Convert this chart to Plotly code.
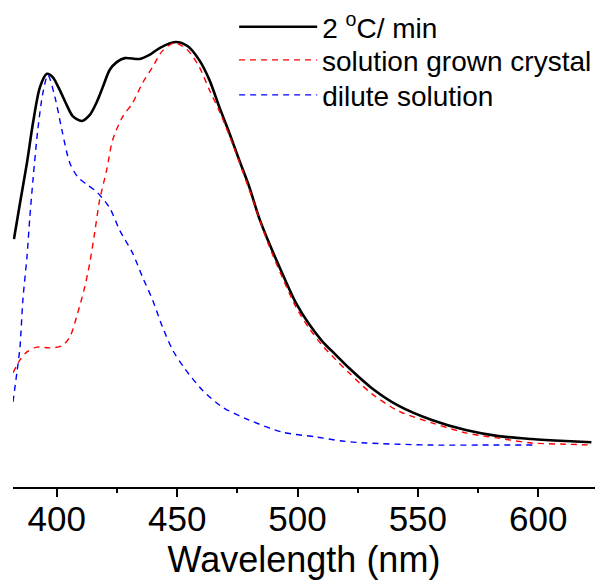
import plotly.graph_objects as go

# Wavelength (nm) and normalized intensity
wl_black = [382.2, 384.7, 387.6, 390.1, 393.0, 395.9, 398.3, 401.2, 404.1, 406.6, 410.4, 413.7,
            416.6, 419.1, 422.0, 424.9, 428.2, 434.4, 438.5, 442.7, 449.3, 454.3, 459.2, 463.4,
            467.5, 471.7, 475.8, 480.0, 484.1, 488.2, 493.6, 499.4, 504.8, 510.2, 516.0, 521.4,
            530.9, 542.1, 555.8, 569.9, 583.5, 597.2, 611.3, 622.1]
int_black = [0.511, 0.600, 0.700, 0.799, 0.888, 0.921, 0.913, 0.881, 0.844, 0.816, 0.804, 0.819,
             0.851, 0.888, 0.931, 0.950, 0.960, 0.958, 0.968, 0.985, 1.000, 0.990, 0.955, 0.906,
             0.839, 0.774, 0.707, 0.640, 0.563, 0.501, 0.427, 0.352, 0.300, 0.258, 0.223, 0.191,
             0.141, 0.097, 0.062, 0.037, 0.022, 0.015, 0.010, 0.007]

wl_red = [381.8, 384.7, 387.6, 391.7, 397.1, 402.1, 405.4, 408.7, 411.6, 413.7, 415.7, 417.8,
          420.7, 423.2, 427.3, 431.5, 435.6, 439.8, 443.9, 448.9, 454.3, 459.2, 463.4, 467.5,
          472.9, 480.0, 488.2, 499.4, 504.8, 510.2, 516.0, 521.4, 530.9, 542.1, 555.8, 569.9,
          583.5, 597.2, 611.3, 622.1]
int_red = [0.179, 0.211, 0.231, 0.243, 0.241, 0.246, 0.268, 0.328, 0.392, 0.452, 0.526, 0.608,
           0.682, 0.757, 0.814, 0.849, 0.898, 0.938, 0.978, 0.998, 0.980, 0.938, 0.881, 0.829,
           0.749, 0.633, 0.494, 0.342, 0.290, 0.248, 0.211, 0.179, 0.127, 0.084, 0.055, 0.030,
           0.017, 0.005, 0.002, 0.000]

wl_blue = [381.8, 383.4, 384.7, 385.9, 387.6, 388.8, 390.1, 392.1, 394.2, 396.3, 399.2, 402.1,
           405.4, 408.7, 412.8, 416.6, 422.0, 426.1, 431.5, 435.6, 439.8, 443.9, 448.1, 453.0,
           460.5, 468.8, 479.9, 493.6, 507.7, 518.5, 528.4, 555.8, 583.5, 598.8]
int_blue = [0.107, 0.179, 0.243, 0.360, 0.467, 0.566, 0.658, 0.782, 0.873, 0.918, 0.864, 0.782,
            0.700, 0.665, 0.645, 0.628, 0.588, 0.533, 0.476, 0.417, 0.360, 0.293, 0.236, 0.191,
            0.136, 0.094, 0.062, 0.032, 0.020, 0.010, 0.005, 0.000, 0.000, 0.000]

names = ["2 <sup>o</sup>C/ min", "solution grown crystal", "dilute solution"]
tick_vals = [400, 450, 500, 550, 600]

font_family = "Liberation Sans, Arial, sans-serif"
legend_rows_y = [0.985, 0.914, 0.839]
legend_ids = ["legend", "legend2", "legend3"]

fig = go.Figure()
fig.add_trace(go.Scatter(x=wl_black, y=int_black, mode="lines", name=names[0], legend=legend_ids[0],
                         line=dict(color="black", width=2.6, shape="spline", smoothing=0.8)))
fig.add_trace(go.Scatter(x=wl_red, y=int_red, mode="lines", name=names[1], legend=legend_ids[1],
                         line=dict(color="#ff0000", width=1.4, dash="6px,5px", shape="spline", smoothing=0.8)))
fig.add_trace(go.Scatter(x=wl_blue, y=int_blue, mode="lines", name=names[2], legend=legend_ids[2],
                         line=dict(color="#0000ff", width=1.4, dash="6px,5px", shape="spline", smoothing=0.8)))

def legend_style(yv):
    return dict(x=0.38, y=yv, xanchor="left", yanchor="middle",
                font=dict(size=28, family=font_family, color="black"),
                bgcolor="rgba(0,0,0,0)", itemwidth=78)

fig.update_layout(
    width=597, height=585,
    margin=dict(l=13, r=0, t=20, b=98),
    paper_bgcolor="white", plot_bgcolor="white",
    font=dict(family=font_family, color="black"),
    showlegend=True,
    legend=legend_style(legend_rows_y[0]),
    legend2=legend_style(legend_rows_y[1]),
    legend3=legend_style(legend_rows_y[2]),
    xaxis=dict(range=[381.8, 623.6], tickvals=tick_vals,
               showline=True, linecolor="black", linewidth=2,
               ticks="outside", ticklen=8, tickwidth=2, tickcolor="black",
               minor=dict(dtick=25, tick0=375, ticks="outside", ticklen=4, tickwidth=2, tickcolor="black"),
               showgrid=False, zeroline=False, ticklabelstandoff=-8,
               tickfont=dict(size=35, family=font_family, color="black"),
               title=dict(text="Wavelength (nm)", font=dict(size=36, family=font_family, color="black"), standoff=10)),
    yaxis=dict(range=[-0.1042, 1.0546], visible=False, showgrid=False, zeroline=False),
)

fig.write_html("out.html")
